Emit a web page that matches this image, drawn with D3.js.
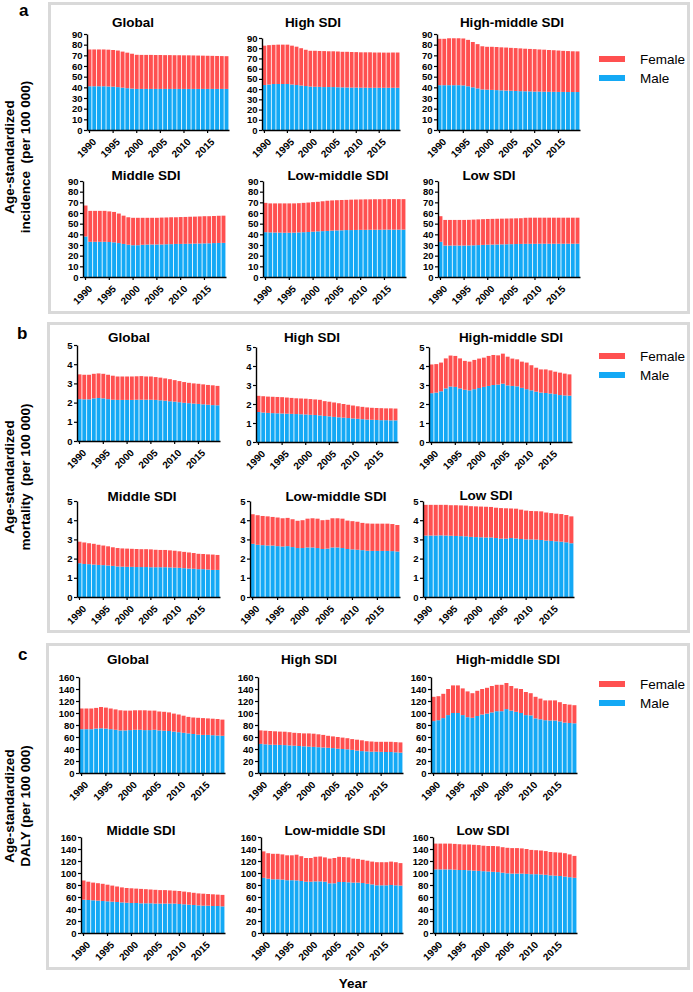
<!DOCTYPE html>
<html><head><meta charset="utf-8">
<script src="https://cdn.jsdelivr.net/npm/d3@7"></script>
<style>
body{margin:0;background:#fff}
svg{display:block}
text{font-family:"Liberation Sans",Arial,sans-serif}
</style>
</head><body>
<svg id="chart" width="693" height="992"></svg>
<script>
// ---------------- DATA ----------------
const years = [1990,1991,1992,1993,1994,1995,1996,1997,1998,1999,2000,2001,2002,2003,2004,2005,2006,2007,2008,2009,2010,2011,2012,2013,2014,2015,2016,2017,2018,2019];
const yearTicks = [1990,1995,2000,2005,2010,2015];
const regions = ["Global","High SDI","High-middle SDI","Middle SDI","Low-middle SDI","Low SDI"];
const sexes = ["Female","Male"];
const incidenceTicks = [0,10,20,30,40,50,60,70,80,90];
const mortalityTicks = [0,1,2,3,4,5];
const dalyTicks = [0,20,40,60,80,100,120,140,160];
const panelLetters = ["a","b","c"];
const yLabels = [["Age-standardized","incidence  (per 100 000)"],["Age-standardized","mortality  (per 100 000)"],["Age-standardized","DALY (per 100 000)"]];
const xLabel = "Year";

// a: incidence
const incGlobalMale   = [41,41,41,41,40.8,40.6,40.2,39.7,39.2,38.8,38.5,38.5,38.5,38.5,38.5,38.5,38.5,38.5,38.5,38.5,38.5,38.5,38.5,38.5,38.5,38.5,38.5,38.5,38.5,38.5];
const incGlobalFemale = [34.5,34.5,34.5,34.5,34.5,34.4,34.3,33.8,33.3,32.7,32,31.9,31.9,31.9,31.8,31.8,31.7,31.7,31.6,31.6,31.5,31.5,31.4,31.3,31.2,31.1,31,30.9,30.8,30.7];
const incHighMale     = [44,44.5,45,45,45,45,44.5,44,43.5,43,42.5,42.3,42.2,42,42,42,41.8,41.7,41.6,41.5,41.5,41.4,41.4,41.3,41.3,41.3,41.3,41.3,41.3,41.3];
const incHighFemale   = [38.5,38.5,38.3,38.5,38.5,38.5,38,37.5,36.5,35.5,35,35.2,35.1,35.2,35,35,35,34.8,34.9,34.8,34.7,34.6,34.6,34.7,34.5,34.5,34.4,34.4,34.5,34.5];
const incHMMale       = [42,42,42,42,42,41.8,41,40,39,38,37.8,37.6,37.4,37.2,37,36.8,36.6,36.4,36.3,36.2,36,36,35.9,35.8,35.8,35.7,35.7,35.6,35.6,35.6];
const incHMFemale     = [43.5,43.5,44,44,44,44,43.5,42.5,41.5,40.5,40.2,40.4,40.4,40.3,40.3,40.2,40.2,40.1,39.9,39.8,39.8,39.5,39.4,39.2,39,38.8,38.5,38.4,38.2,38.1];
const incMiddleMale   = [38,33,33,33,33,32.8,32.5,31.8,31,30.3,29.8,29.8,30.2,30.4,30.5,30.5,30.5,30.7,30.8,31,31,31.1,31.2,31.3,31.4,31.5,31.6,31.8,31.9,32];
const incMiddleFemale = [29,29,29,29,29,28.7,28.5,27.7,26.5,25.7,25.7,25.7,25.3,25.1,25,25,25.2,25.1,25.2,25,25.2,25.2,25.3,25.3,25.4,25.5,25.4,25.4,25.5,25.5];
const incLMMale       = [42,41.8,41.7,41.6,41.5,41.5,41.6,41.8,42,42.2,42.5,42.8,43,43.2,43.5,43.7,43.8,44,44,44.1,44.2,44.2,44.3,44.3,44.3,44.4,44.4,44.4,44.4,44.4];
const incLMFemale     = [27.5,27.2,27.3,27.4,27.5,27.5,27.4,27.4,27.5,27.6,27.7,27.7,28,28.3,28.3,28.3,28.4,28.3,28.5,28.5,28.5,28.6,28.5,28.6,28.6,28.6,28.6,28.6,28.6,28.6];
const incLowMale      = [33,29.5,29.5,29.5,29.5,29.5,29.6,29.7,29.9,30.1,30.3,30.4,30.5,30.6,30.7,30.8,30.9,31,31.1,31.1,31.1,31.2,31.2,31.2,31.2,31.2,31.2,31.2,31.2,31.2];
const incLowFemale    = [24,24,24,24,24,24,24,24.1,24.1,24.1,24.1,24.1,24.1,24.1,24.1,24.1,24.1,24.1,24.4,24.5,24.5,24.4,24.4,24.4,24.4,24.4,24.4,24.4,24.4,24.4];

// b: mortality
const morGlobalMale   = [2.18,2.17,2.17,2.22,2.24,2.22,2.18,2.15,2.14,2.14,2.14,2.14,2.15,2.15,2.15,2.15,2.14,2.12,2.1,2.07,2.05,2.02,1.99,1.97,1.95,1.93,1.91,1.89,1.87,1.86];
const morGlobalFemale = [1.29,1.28,1.28,1.28,1.28,1.28,1.27,1.25,1.22,1.22,1.22,1.22,1.22,1.23,1.21,1.21,1.19,1.18,1.16,1.15,1.12,1.10,1.08,1.06,1.05,1.05,1.04,1.03,1.03,1.01];
const morHighMale     = [1.58,1.55,1.53,1.52,1.51,1.5,1.49,1.48,1.47,1.46,1.45,1.43,1.42,1.4,1.37,1.35,1.32,1.3,1.28,1.26,1.24,1.22,1.2,1.18,1.17,1.16,1.15,1.15,1.14,1.14];
const morHighFemale   = [0.85,0.86,0.86,0.86,0.86,0.86,0.85,0.84,0.83,0.83,0.83,0.83,0.82,0.82,0.78,0.77,0.76,0.74,0.72,0.70,0.68,0.66,0.65,0.64,0.63,0.63,0.63,0.62,0.63,0.62];
const morHMMale       = [2.57,2.6,2.67,2.82,2.92,2.9,2.82,2.75,2.72,2.78,2.84,2.9,2.95,3.0,3.02,3.07,2.98,2.95,2.93,2.85,2.78,2.72,2.65,2.6,2.58,2.55,2.52,2.47,2.45,2.44];
const morHMFemale     = [1.51,1.5,1.51,1.58,1.63,1.63,1.58,1.52,1.51,1.54,1.55,1.54,1.58,1.58,1.54,1.58,1.51,1.44,1.42,1.38,1.4,1.32,1.26,1.22,1.24,1.22,1.18,1.18,1.15,1.12];
const morMiddleMale   = [1.76,1.72,1.71,1.69,1.67,1.66,1.64,1.62,1.59,1.58,1.57,1.57,1.56,1.56,1.56,1.55,1.55,1.55,1.55,1.54,1.53,1.52,1.5,1.48,1.47,1.45,1.45,1.43,1.41,1.41];
const morMiddleFemale = [1.12,1.12,1.09,1.08,1.05,1.02,1.0,0.97,0.96,0.95,0.95,0.94,0.94,0.93,0.93,0.93,0.91,0.9,0.9,0.89,0.88,0.86,0.85,0.84,0.82,0.8,0.79,0.79,0.8,0.78];
const morLMMale       = [2.77,2.72,2.7,2.68,2.68,2.65,2.63,2.65,2.6,2.55,2.55,2.58,2.58,2.55,2.5,2.52,2.58,2.58,2.55,2.5,2.48,2.46,2.44,2.41,2.4,2.4,2.4,2.4,2.39,2.37];
const morLMFemale     = [1.54,1.54,1.52,1.52,1.49,1.49,1.47,1.47,1.45,1.42,1.45,1.5,1.52,1.53,1.5,1.5,1.52,1.52,1.53,1.48,1.47,1.46,1.42,1.42,1.42,1.42,1.42,1.42,1.41,1.38];
const morLowMale      = [3.2,3.2,3.2,3.21,3.2,3.19,3.18,3.17,3.16,3.13,3.12,3.11,3.1,3.1,3.07,3.04,3.04,3.07,3.05,3.02,3.0,3.0,2.99,2.97,2.94,2.92,2.9,2.88,2.85,2.8];
const morLowFemale    = [1.6,1.6,1.6,1.59,1.6,1.59,1.6,1.6,1.6,1.6,1.6,1.6,1.6,1.59,1.58,1.59,1.58,1.54,1.55,1.53,1.5,1.48,1.48,1.49,1.46,1.45,1.44,1.44,1.42,1.4];

// c: DALY
const dalGlobalMale   = [73,73,73,74,74.5,74,73,72,71,71,71.5,72,72,71.5,71.5,72,71,70.5,70,69,68,67,66,65,64,63.5,63.5,63,62.5,62];
const dalGlobalFemale = [34.5,34.5,34.5,34.5,35.5,35,34.5,34,33.5,33,32.5,32.5,32.5,33,32.5,32,31.5,31.5,31,30,29.5,28.5,27.5,27.5,28,28,27.5,27.5,27.5,27];
const dalHighMale     = [48.5,47.8,47.2,47,46.8,46.5,46,45.5,45,44.5,44,43.5,43,42.5,42,41.5,40.5,40,39.5,38.5,37.5,36.5,36,35.5,35.5,35.2,35,35,34.5,34];
const dalHighFemale   = [22.5,22.7,22.8,22.5,22.2,22.3,22,21.5,21.5,21.5,22,22,21.5,21,20,19.5,19.5,19,18.5,18,18,18,17,17,16.5,16.8,17,17,17,17];
const dalHMMale       = [86.5,88,91.5,96.5,100,100,96.5,93,92,95,97.5,99,101,103,103,106.5,104,102,100,96.5,96,91,89.5,88,87.5,87.5,86,84,83.3,82.8];
const dalHMFemale     = [40.5,40,40.5,43.5,46,46,44.5,43,41,42,42.5,43,44,44,44,43.5,41,39,40,38.5,37,36,34.5,33,33.5,33.5,32,31,30.7,30.2];
const dalMiddleMale   = [55.5,55,54.5,54,53.3,52.8,52.2,51.7,51,50.5,50,50,49.5,49.5,49.5,49,49,49,49,49,48.3,47.8,47.2,46.7,46,45.5,45.5,45,45,44.4];
const dalMiddleFemale = [32,30.5,29.5,29,28.7,27.7,26.8,25.8,25,24.5,24.5,24,24,23.5,23,23,22.5,22.5,22,21.5,21.7,21.2,20.8,20.3,20,20,19.5,19.5,19,19.1];
const dalLMMale       = [92,90.5,89.5,89.5,89,88,88,87.7,86.7,85.5,85.5,86,86,85.5,82.8,82.8,85,85,84.5,84,84,83.3,82,81,79.5,79.5,79.5,80,79.5,79];
const dalLMFemale     = [44,42.5,42.5,42.5,42,41.5,41.5,42.8,41.3,39.5,39.5,41,41.5,40.5,41.2,42.2,42,41.5,41.5,40,39.5,38.7,38.5,38,38.5,38.5,38.5,39,38.5,37.5];
const dalLowMale      = [106,106,106,106,105.5,105,105,104.5,104,103.5,103,102.5,102,101.5,100.5,99.5,99,99,99,98.5,98,98,97.5,97,96,95.5,95,94,93,92];
const dalLowFemale    = [43,43,43,43,43,43,42.5,43,43,43,42.5,42.5,43,43,42.5,42.5,42.5,42.5,42,41.5,40.5,40,40,39.5,39,39,39,39,38,36.5];

// ---------------- LAYOUT ----------------
const colors = {Female:"#ff5050", Male:"#14a9f5"};
const panels = [
  {ticks:incidenceTicks, max:90, box:[49.5,3.5,639,309], letter:[19,16], ylabelY:157, legend:[59,78],
   series:[[incGlobalMale,incGlobalFemale],[incHighMale,incHighFemale],[incHMMale,incHMFemale],[incMiddleMale,incMiddleFemale],[incLMMale,incLMFemale],[incLowMale,incLowFemale]],
   plots:[{x0:87,x1:229,yb:130,yt:34,tx:133,ty:27},{x0:262,x1:400,yb:130,yt:38,tx:313,ty:27},{x0:437,x1:580,yb:130,yt:34,tx:512,ty:27},
          {x0:83,x1:226,yb:277,yt:181,tx:146,ty:180},{x0:263,x1:406,yb:277,yt:181,tx:338,ty:180},{x0:438,x1:580,yb:277,yt:181,tx:489,ty:180}]},
  {ticks:mortalityTicks, max:5, box:[48.5,323.5,640,308], letter:[17,339], ylabelY:477, legend:[356,375],
   series:[[morGlobalMale,morGlobalFemale],[morHighMale,morHighFemale],[morHMMale,morHMFemale],[morMiddleMale,morMiddleFemale],[morLMMale,morLMFemale],[morLowMale,morLowFemale]],
   plots:[{x0:77,x1:220,yb:441,yt:345,tx:129,ty:342},{x0:256,x1:398,yb:442,yt:347,tx:312,ty:342},{x0:429,x1:572,yb:442,yt:347,tx:511,ty:342},
          {x0:77,x1:220,yb:597,yt:501,tx:142,ty:501},{x0:250,x1:400,yb:597,yt:501,tx:336,ty:501},{x0:423,x1:574,yb:597,yt:501,tx:486,ty:500}]},
  {ticks:dalyTicks, max:160, box:[47.5,644.5,641,324], letter:[18,660], ylabelY:806, legend:[684,703],
   series:[[dalGlobalMale,dalGlobalFemale],[dalHighMale,dalHighFemale],[dalHMMale,dalHMFemale],[dalMiddleMale,dalMiddleFemale],[dalLMMale,dalLMFemale],[dalLowMale,dalLowFemale]],
   plots:[{x0:79,x1:225,yb:773,yt:677,tx:128,ty:664},{x0:258,x1:403,yb:773,yt:677,tx:309,ty:664},{x0:431,x1:577,yb:773,yt:677,tx:508,ty:664},
          {x0:81,x1:225,yb:933,yt:837,tx:141,ty:835},{x0:261,x1:403,yb:933,yt:837,tx:335,ty:835},{x0:433,x1:577,yb:933,yt:837,tx:483,ty:835}]}
];

const svg = d3.select("#chart");
svg.append("rect").attr("width",693).attr("height",992).attr("fill","#fff");

function drawPlot(g, male, female, ticks, max, L, title) {
  const x = d3.scaleBand().domain(years).range([L.x0, L.x1]).paddingInner(0.18).paddingOuter(0.12);
  const y = d3.scaleLinear().domain([0, max]).range([L.yb, L.yt]);
  const rows = years.map((yr, i) => ({year: yr, Male: male[i], Female: female[i]}));
  const stacked = d3.stack().keys(["Male","Female"])(rows);
  g.append("g").selectAll("g").data(stacked).join("g")
    .attr("fill", d => colors[d.key])
    .selectAll("rect").data(d => d).join("rect")
    .attr("x", d => x(d.data.year)).attr("width", x.bandwidth())
    .attr("y", d => y(d[1])).attr("height", d => y(d[0]) - y(d[1]));

  const ya = g.append("g").attr("transform", `translate(${L.x0},0)`)
    .call(d3.axisLeft(y).tickValues(ticks).tickFormat(d3.format("d")).tickSize(3).tickSizeOuter(0).tickPadding(1.5));
  const xa = g.append("g").attr("transform", `translate(0,${L.yb})`)
    .call(d3.axisBottom(x).tickValues(yearTicks).tickSize(3).tickSizeOuter(0));
  [ya, xa].forEach(a => {
    a.select(".domain").attr("stroke", "#000").attr("stroke-width", 1.4);
    a.selectAll(".tick line").attr("stroke", "#000").attr("stroke-width", 1.2);
    a.selectAll("text").attr("fill", "#000").attr("font-family", "Liberation Sans, Arial, sans-serif")
      .attr("font-weight", "bold");
  });
  ya.selectAll(".tick text").attr("font-size", 9.5);
  xa.selectAll(".tick text").attr("font-size", 10).attr("x", null).attr("y", null).attr("dy", "0.35em")
    .attr("text-anchor", "end").attr("transform", "translate(5,10) rotate(-45)");

  g.append("text").attr("x", L.tx).attr("y", L.ty).attr("text-anchor", "middle")
    .attr("font-size", 13.5).attr("font-weight", "bold").attr("fill", "#000").text(title);
}

panels.forEach((P, pi) => {
  const g = svg.append("g");
  g.append("rect").attr("x", P.box[0]).attr("y", P.box[1]).attr("width", P.box[2]).attr("height", P.box[3])
    .attr("fill", "none").attr("stroke", "#d9d9d9").attr("stroke-width", 3);
  g.append("text").attr("x", P.letter[0]).attr("y", P.letter[1]).attr("font-size", 17).attr("font-weight", "bold")
    .attr("fill", "#000").text(panelLetters[pi]);
  const yl = g.append("text").attr("transform", `translate(0,${P.ylabelY}) rotate(-90)`)
    .attr("text-anchor", "middle").attr("font-size", 13.5).attr("font-weight", "bold").attr("fill", "#000")
    .style("white-space", "pre");
  yLabels[pi].forEach((t, k) => yl.append("tspan").attr("x", 0).attr("y", k === 0 ? 13.5 : 30).text(t));

  P.plots.forEach((L, ri) => drawPlot(g.append("g"), P.series[ri][0], P.series[ri][1], P.ticks, P.max, L, regions[ri]));

  sexes.forEach((s, k) => {
    const cy = P.legend[k];
    g.append("rect").attr("x", 599).attr("y", cy - 3).attr("width", 26).attr("height", 6).attr("fill", colors[s]);
    g.append("text").attr("x", 640).attr("y", cy).attr("dy", "0.35em").attr("font-size", 13.5).attr("fill", "#000").text(s);
  });
});

svg.append("text").attr("x", 353).attr("y", 988).attr("text-anchor", "middle")
  .attr("font-size", 13.5).attr("font-weight", "bold").attr("fill", "#000").text(xLabel);
</script>
</body></html>
